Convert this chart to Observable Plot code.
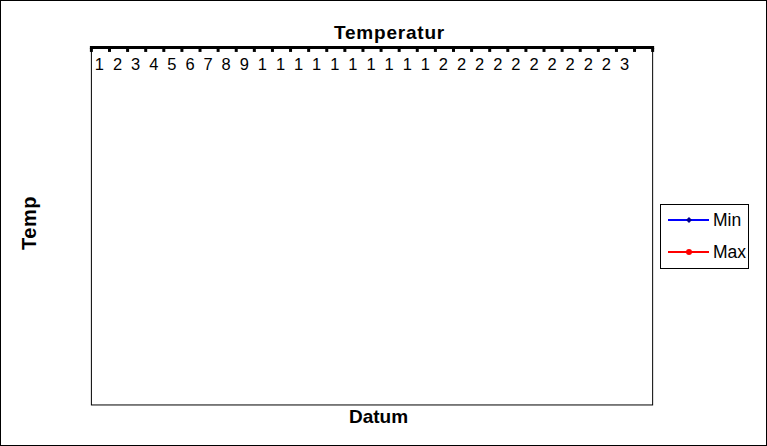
<!DOCTYPE html>
<html>
<head>
<meta charset="utf-8">
<script src="https://cdn.jsdelivr.net/npm/d3@7"></script>
<script src="https://cdn.jsdelivr.net/npm/@observablehq/plot@0.6"></script>
<style>
  html, body { margin: 0; padding: 0; background: #fff; }
  #chart { position: relative; width: 767px; height: 446px; box-sizing: border-box; border: 1px solid #000; font-family: "Liberation Sans", Arial, sans-serif; overflow: hidden; }
  #plot { position: absolute; left: -1px; top: -1px; }
  .lbl { position: absolute; font-weight: bold; color: #000; white-space: nowrap; }
  #title { left: 0; width: 777px; text-align: center; top: 21px; font-size: 19px; letter-spacing: 0.8px; }
  #xlabel { left: 0; width: 755px; text-align: center; top: 405px; font-size: 19px; }
  #ylabel { left: 28px; top: 222px; font-size: 20px; letter-spacing: 0.5px; transform: translate(-50%, -50%) rotate(-90deg); }
  #legend { position: absolute; left: 659px; top: 203px; }
</style>
</head>
<body>
<div id="chart">
  <div id="plot"></div>
  <div class="lbl" id="title">Temperatur</div>
  <div class="lbl" id="xlabel">Datum</div>
  <div class="lbl" id="ylabel">Temp</div>
  <div id="legend"></div>
</div>
<script>
// Categories (days of the month)
const days = [1,2,3,4,5,6,7,8,9,10,11,12,13,14,15,16,17,18,19,20,21,22,23,24,25,26,27,28,29,30,31];
// Tick labels as shown (truncated by the chart)
const tickLabels = [
  "1","2","3","4","5","6","7","8","9",
  "1","1","1","1","1","1","1","1","1","1",
  "2","2","2","2","2","2","2","2","2","2",
  "3",""
];
// Series (no values are plotted in the reference)
const seriesNames = ["Min", "Max"];
const seriesColors = ["#0000ff", "#ff0000"];
const minTemps = [];
const maxTemps = [];

const lineData = [
  ...minTemps.map((v, i) => ({day: days[i], value: v, series: "Min"})),
  ...maxTemps.map((v, i) => ({day: days[i], value: v, series: "Max"}))
];
const boundaries = [...days.map(d => d - 0.5), days[days.length - 1] + 0.5];

const chart = Plot.plot({
  width: 767,
  height: 446,
  marginLeft: 91,
  marginRight: 114,
  marginTop: 47,
  marginBottom: 41,
  style: {fontFamily: "Liberation Sans, Arial, sans-serif", background: "transparent"},
  x: {type: "linear", domain: [days[0] - 0.5, days[days.length - 1] + 0.5], axis: null},
  y: {axis: null},
  color: {domain: seriesNames, range: seriesColors},
  marks: [
    Plot.frame({stroke: "#000", strokeWidth: 1}),
    Plot.line(lineData, {x: "day", y: "value", z: "series", stroke: "series", strokeWidth: 2}),
    Plot.dot(lineData, {x: "day", y: "value", fill: "series", r: 3}),
    Plot.frame({anchor: "top", stroke: "#000", strokeWidth: 3}),
    Plot.axisX(boundaries, {anchor: "top", label: null, tickSize: -4, strokeWidth: 3, tickFormat: () => "", stroke: "#000"}),
    Plot.text(days, {x: d => d, dx: -1, text: (d, i) => tickLabels[i], frameAnchor: "top", dy: 11, fontSize: 16.5, fill: "#000", fontFamily: "Liberation Sans, Arial, sans-serif"})
  ]
});
document.getElementById("plot").appendChild(chart);

// Legend
const lw = 90, lh = 66;
const svg = d3.select("#legend").append("svg").attr("width", lw).attr("height", lh);
svg.append("rect").attr("x", 0.5).attr("y", 0.5).attr("width", lw - 2).attr("height", lh - 2).attr("fill", "#fff").attr("stroke", "#000");
seriesNames.forEach((name, i) => {
  const y = 16 + i * 32;
  const g = svg.append("g");
  g.append("line").attr("x1", 8).attr("x2", 49).attr("y1", y).attr("y2", y).attr("stroke", seriesColors[i]).attr("stroke-width", 2);
  if (i === 0) {
    g.append("path").attr("d", `M${29},${y - 3}L${32},${y}L${29},${y + 3}L${26},${y}Z`).attr("fill", "#00008b");
  } else {
    g.append("circle").attr("cx", 29).attr("cy", y).attr("r", 3).attr("fill", seriesColors[i]);
  }
  g.append("text").attr("x", 53).attr("y", y + 6).attr("font-size", 17.5).attr("font-family", "Liberation Sans, Arial, sans-serif").text(name);
});
</script>
</body>
</html>
